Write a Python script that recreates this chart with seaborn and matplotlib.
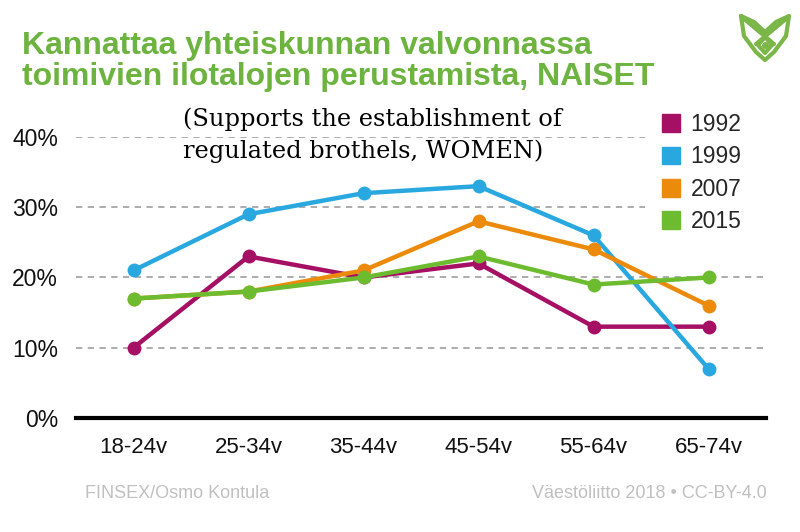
import matplotlib
matplotlib.use('Agg')
import matplotlib.pyplot as plt
import matplotlib.patches as mpatches
from matplotlib.lines import Line2D
import seaborn as sns
import numpy as np
import pandas as pd

ages = ['18-24v', '25-34v', '35-44v', '45-54v', '55-64v', '65-74v']
years = ['1992', '1999', '2007', '2015']
v1992 = [10, 23, 20, 22, 13, 13]
v1999 = [21, 29, 32, 33, 26, 7]
v2007 = [17, 18, 21, 28, 24, 16]
v2015 = [17, 18, 20, 23, 19, 20]
colors = ['#a50f64', '#29a8e0', '#ec8a0c', '#6dbb2e']

df = pd.DataFrame({
    'age': ages * 4,
    'year': np.repeat(years, len(ages)),
    'value': np.array(v1992 + v1999 + v2007 + v2015) / 100,
})

sns.set_style('white')
plt.rcParams['font.family'] = ['Liberation Sans', 'DejaVu Sans']

W, H = 800, 532
fig = plt.figure(figsize=(8, 5.32), dpi=100)
ax = fig.add_axes([0.095, 0.2143, 0.8625, 0.5282])

sns.lineplot(data=df, x='age', y='value', hue='year', palette=colors,
             marker='o', markersize=10, markeredgewidth=0, linewidth=3.2,
             sort=False, ax=ax, clip_on=False, zorder=3)

ax.set_xlim(-0.5, 5.5)
ax.set_ylim(0, 0.4)
ax.set_yticks([0, 0.1, 0.2, 0.3, 0.4])
ax.set_yticklabels(['0%', '10%', '20%', '30%', '40%'], fontsize=16.5)
ax.set_xticks(range(len(ages)))
ax.set_xticklabels(ages, fontsize=16)
ax.tick_params(axis='both', length=0, colors='#111111')
ax.tick_params(axis='x', pad=14)
ax.tick_params(axis='y', pad=13)
ax.set_xlabel('')
ax.set_ylabel('')
ax.yaxis.grid(True, linestyle=(0, (3.5, 3)), color='#a6a6a6', linewidth=1.3)
ax.set_axisbelow(True)
for s in ['top', 'right', 'left']:
    ax.spines[s].set_visible(False)
ax.spines['bottom'].set_linewidth(3)
ax.spines['bottom'].set_color('black')
ax.spines['bottom'].set_zorder(4)

# white box behind the legend hides the upper grid lines
ax.add_patch(mpatches.Rectangle((645 / W, 1 - 240 / H), 130 / W, 140 / H,
                                transform=fig.transFigure, facecolor='white',
                                edgecolor='none', zorder=1, clip_on=False))

handles = [mpatches.Patch(color=c, label=y) for c, y in zip(colors, years)]
leg = ax.legend(handles=handles, loc='upper left', fontsize=16.5, frameon=False,
                bbox_to_anchor=(662 / W, 1 - 113 / H), bbox_transform=fig.transFigure,
                handlelength=0.8, handleheight=0.8, handletextpad=0.45,
                labelspacing=0.41, borderpad=0, borderaxespad=0)
leg.set_zorder(5)

fig.text(22 / W, 1 - 31 / H, 'Kannattaa yhteiskunnan valvonnassa\ntoimivien ilotalojen perustamista, NAISET',
         color='#6db33f', fontsize=23, fontweight='bold',
         va='top', ha='left', linespacing=1.06)
fig.text(183 / W, 1 - 107 / H, '(Supports the establishment of\nregulated brothels, WOMEN)',
         color='black', fontsize=17.4, family=['DejaVu Serif'],
         va='top', ha='left', linespacing=1.5)
fig.text(85 / W, 1 - 493 / H, 'FINSEX/Osmo Kontula', color='#c0c0c0', fontsize=13,
         ha='left', va='center')
fig.text(767 / W, 1 - 493 / H, 'Väestöliitto 2018 • CC-BY-4.0', color='#c0c0c0', fontsize=13,
         ha='right', va='center')

# logo (top right)
green = '#7ab648'
def px(pts):
    return [p[0] / W for p in pts], [1 - p[1] / H for p in pts]
outline = [(741, 16), (754, 22), (765, 32), (776, 22), (789, 16), (786, 36), (774, 52), (765, 60),
           (756, 52), (744, 36), (741, 16)]
inner1 = [(743, 18), (774, 44)]
inner2 = [(787, 18), (756, 44)]
diamond = [(765, 37), (772, 45), (765, 53), (758, 45), (765, 37)]
for pts in (outline, inner1, inner2, diamond):
    xs, ys = px(pts)
    fig.add_artist(Line2D(xs, ys, color=green, linewidth=3, solid_joinstyle='round',
                          solid_capstyle='round', transform=fig.transFigure))
xs, ys = px([(765, 45)])
fig.add_artist(Line2D(xs, ys, color=green, marker='o', markersize=4, linestyle='',
                      transform=fig.transFigure))

fig.savefig('out.png', dpi=100)
